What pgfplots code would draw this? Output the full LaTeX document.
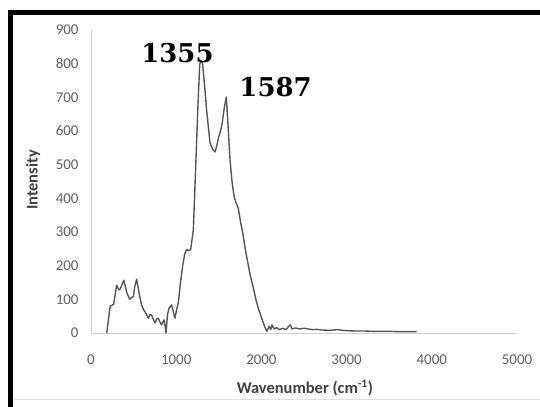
\documentclass[border=0pt]{standalone}
\usepackage{pgfplots}
\pgfplotsset{compat=1.18}
\usepackage{fontspec}
\setmainfont{Carlito}
\newfontfamily\peakfont{DejaVu Serif}
\definecolor{ticktext}{RGB}{95,95,95}
\definecolor{labeltext}{RGB}{64,64,64}
\definecolor{axisgray}{RGB}{210,210,210}
\definecolor{trace}{RGB}{85,85,85}

\begin{document}
\begin{tikzpicture}
\path[use as bounding box] (0,0) rectangle (540bp,407bp);
\begin{axis}[
    at={(91bp,74bp)}, anchor=south west,
    scale only axis,
    width=426bp, height=303bp,
    xmin=0, xmax=5000, ymin=0, ymax=900,
    xtick={0,1000,2000,3000,4000,5000},
    ytick={0,100,200,300,400,500,600,700,800,900},
    axis lines=left,
    axis line style={draw=axisgray, line width=1pt, -},
    major tick length=0pt,
    /pgf/number format/assume math mode=true,
    /pgf/number format/1000 sep={},
    ticklabel style={font=\fontsize{15}{16}\selectfont, text=ticktext},
    yticklabel style={xshift=-9bp},
    xticklabel style={yshift=-18bp},
    xlabel={\textbf{Wavenumber (cm\textsuperscript{-1})}},
    ylabel={\textbf{Intensity}},
    label style={font=\fontsize{16.5}{17}\selectfont, text=labeltext},
    xlabel style={at={(axis description cs:0.502,-0.182)}, anchor=center},
    ylabel style={at={(axis description cs:-0.136,0.505)}, anchor=center, rotate=0},
    clip=false,
]
\addplot[color=trace, line width=1.4pt, line join=round] coordinates {
(185,0) (225,80) (245,82) (266,86) (301,142) (327,128) (340,130) (367,145) (385,157)
(420,120) (455,100) (480,106) (497,108) (515,140) (536,160) (565,118) (592,85)
(615,70) (634,63) (652,55) (673,44) (692,55) (712,53) (732,40) (751,30) (772,42)
(790,44) (810,32) (829,24) (845,34) (857,39) (870,20) (880,0) (898,55) (915,73)
(935,80) (947,83) (968,62) (986,44) (1005,70) (1025,90) (1050,150) (1076,200)
(1100,235) (1123,248) (1145,244) (1170,248) (1201,306) (1218,420) (1236,543)
(1256,680) (1276,798) (1292,810) (1309,800) (1335,730) (1357,662) (1378,610)
(1398,563) (1430,545) (1458,538) (1480,560) (1499,583) (1520,600) (1539,622)
(1565,670) (1588,701) (1610,610) (1632,513) (1655,450) (1681,404) (1705,385)
(1729,370) (1755,330) (1782,296) (1810,250) (1842,207) (1870,170) (1903,137)
(1935,100) (1964,73) (1995,50) (2024,29) (2045,15) (2065,5) (2090,20) (2110,10)
(2125,24) (2150,12) (2180,16) (2210,10) (2250,14) (2290,10) (2320,20) (2340,24)
(2360,12) (2400,15) (2450,12) (2500,14) (2550,12) (2600,10) (2650,11) (2700,9)
(2800,8) (2900,10) (2950,8) (3000,7) (3100,6) (3200,6) (3300,5) (3400,5)
(3500,5) (3600,4) (3700,4) (3823,4)
};
\node[font=\peakfont\bfseries\fontsize{26}{27}\selectfont] at (axis cs:1015,831) {1355};
\node[font=\peakfont\bfseries\fontsize{26}{27}\selectfont] at (axis cs:2166,730) {1587};
\end{axis}
% black frame along left and top edge, faint line near the bottom
\draw[line width=5bp, black] (10.5bp,0) -- (10.5bp,394.5bp) -- (540bp,394.5bp);
\draw[line width=0.8pt, black!12] (14bp,8bp) -- (540bp,8bp);
\end{tikzpicture}
\end{document}
